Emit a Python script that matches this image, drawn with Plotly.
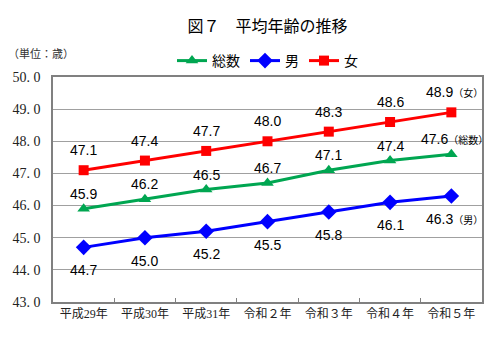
import plotly.graph_objects as go

categories = ["平成29年", "平成30年", "平成31年", "令和２年", "令和３年", "令和４年", "令和５年"]
total = [45.9, 46.2, 46.5, 46.7, 47.1, 47.4, 47.6]
male = [44.7, 45.0, 45.2, 45.5, 45.8, 46.1, 46.3]
female = [47.1, 47.4, 47.7, 48.0, 48.3, 48.6, 48.9]
y_ticks = [43, 44, 45, 46, 47, 48, 49, 50]
y_ticktext = ["43. 0", "44. 0", "45. 0", "46. 0", "47. 0", "48. 0", "49. 0", "50. 0"]

series = [
    ("総数", total, "rgb(0,166,81)", "triangle-up", 11, 15, "（総数）"),
    ("男", male, "rgb(0,0,255)", "diamond", 12, -23, "（男）"),
    ("女", female, "rgb(255,0,0)", "square", 10, 20, "（女）"),
]

JP = "Liberation Serif, Noto Sans CJK JP"
fig = go.Figure()
annotations = []
for name, vals, color, sym, msize, shift, suffix in series:
    fig.add_trace(go.Scatter(
        x=categories, y=vals, name=name, mode="lines+markers",
        line=dict(color=color, width=3),
        marker=dict(symbol=sym, size=msize, color=color),
    ))
    for i, (c, v) in enumerate(zip(categories, vals)):
        last = i == len(vals) - 1
        txt = f"{v:.1f}"
        if last:
            txt += f"<span style='font-size:10px;font-family:Noto Sans CJK JP'>{suffix}</span>"
        annotations.append(dict(
            x=c, y=v, xref="x", yref="y", text=txt, showarrow=False,
            yshift=shift, xshift=3 if last else 0,
            font=dict(family="Liberation Sans, Arial", size=14, color="black"),
        ))

annotations.append(dict(
    xref="paper", yref="paper", x=-0.11, y=1.0, xanchor="left", yanchor="bottom", yshift=14,
    text="（単位：歳）", showarrow=False,
    font=dict(family="Noto Sans CJK JP", size=11, color="#333"),
))

fig.update_layout(
    width=500, height=356,
    margin=dict(l=53, r=18, t=77, b=54),
    paper_bgcolor="white", plot_bgcolor="white",
    title=dict(text="図７　平均年齢の推移", x=0.535, xanchor="center", y=0.925, yanchor="middle",
               font=dict(family="Noto Sans CJK JP", size=16, color="black")),
    legend=dict(orientation="h", x=0.5, xanchor="center", y=1.0, yanchor="bottom",
                font=dict(family="Noto Sans CJK JP", size=14, color="black"),
                itemwidth=30, tracegroupgap=0, bgcolor="rgba(0,0,0,0)"),
    showlegend=True,
    annotations=annotations,
    xaxis=dict(type="category", showgrid=False, showline=True, linecolor="#808080", linewidth=1.5,
               mirror=True, ticks="inside", tickson="boundaries", ticklen=4, tickcolor="#808080",
               tickfont=dict(family=JP, size=12, color="#222"), range=[-0.5, 6.5]),
    yaxis=dict(range=[43, 50], tickvals=y_ticks, ticktext=y_ticktext, showgrid=True,
               gridcolor="#a0a0a0", gridwidth=1, showline=True, linecolor="#808080", linewidth=1.5,
               mirror=True, ticks="outside", ticklen=8, tickcolor="rgba(0,0,0,0)",
               tickfont=dict(family="Liberation Serif", size=14, color="#222"), zeroline=False),
)

fig.write_html("out.html", config={"displayModeBar": False},
               post_script="document.body.style.margin='0';")
